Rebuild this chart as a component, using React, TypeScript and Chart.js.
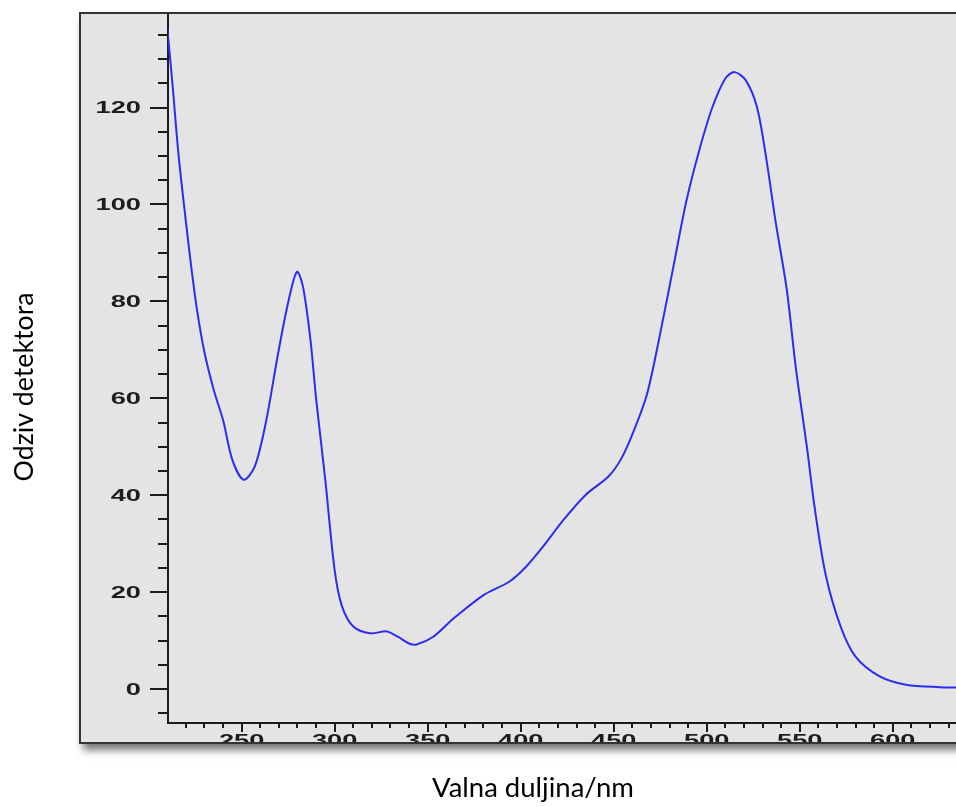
import { useEffect, useRef } from 'react';
import { Chart, registerables } from 'chart.js';

Chart.register(...registerables);

const wavelengths = [
  210, 213, 216, 220, 223, 226, 230, 235, 240, 245, 251, 257, 263, 269, 274, 278, 280, 283, 287, 290,
  295, 300, 304, 310, 319, 328, 334, 340, 344, 353, 364, 380, 394, 403, 412, 423, 435, 447, 454, 461,
  468, 475, 482, 489, 496, 503, 510, 515, 521, 527, 532, 537, 543, 548, 554, 558, 564, 572, 580, 593,
  607, 625, 640,
];
const response = [
  136.5, 124, 110.5, 96.5, 86.8, 78.2, 69.5, 61.7, 55.5, 47.3, 43.2, 45.9, 55, 68, 78, 84.5, 86.1, 83, 72, 60,
  43, 24.5, 17, 12.9, 11.5, 11.9, 10.8, 9.4, 9.2, 10.8, 14.6, 19.4, 22.2, 25.3, 29.4, 34.9, 40.1, 43.8, 47.5, 53.5,
  61, 73.4, 87, 100.6, 111.2, 120, 126, 127.3, 125.6, 120.1, 109.5, 96.5, 82.5, 66, 49.5, 37.5, 23.5, 12.9, 6.7, 2.6,
  0.9, 0.4, 0.3,
];

const xTickValues = [250, 300, 350, 400, 450, 500, 550, 600];
const xTickLabels = ['250', '300', '350', '400', '450', '500', '550', '600'];
const yTickValues = [0, 20, 40, 60, 80, 100, 120];
const yTickLabels = ['0', '20', '40', '60', '80', '100', '120'];
const xTitle = 'Valna duljina/nm';
const yTitle = 'Odziv detektora';

function fitFont(ctx: CanvasRenderingContext2D, text: string, width: number, family: string) {
  ctx.font = `normal 20px ${family}`;
  const w = ctx.measureText(text).width;
  return `normal ${(20 * width) / w}px ${family}`;
}

const framePlugin = {
  id: 'framePlugin',
  beforeDraw(chart: any) {
    const ctx: CanvasRenderingContext2D = chart.ctx;
    ctx.save();
    ctx.fillStyle = '#ffffff';
    ctx.fillRect(0, 0, chart.width, chart.height);
    ctx.shadowColor = 'rgba(0,0,0,0.55)';
    ctx.shadowBlur = 8;
    ctx.shadowOffsetX = 3;
    ctx.shadowOffsetY = 6;
    ctx.fillStyle = '#e4e4e4';
    ctx.fillRect(80, 13, 900, 731);
    ctx.restore();
  },
  beforeDatasetsDraw(chart: any) {
    const ctx: CanvasRenderingContext2D = chart.ctx;
    const xs = chart.scales.x;
    const ys = chart.scales.y;
    const area = chart.chartArea;
    ctx.save();
    ctx.strokeStyle = '#1c1c1c';
    ctx.lineWidth = 2;
    const seg = (x1: number, y1: number, x2: number, y2: number) => {
      ctx.beginPath();
      ctx.moveTo(x1, y1);
      ctx.lineTo(x2, y2);
      ctx.stroke();
    };
    // axes
    seg(area.left, 13, area.left, area.bottom + 1);
    seg(area.left - 1, area.bottom, 960, area.bottom);
    // y ticks
    for (let v = -5; v <= 135; v += 5) {
      const py = Math.round(ys.getPixelForValue(v));
      const len = v % 20 === 0 ? 18 : 10;
      seg(area.left - len, py, area.left, py);
    }
    // x ticks
    for (let v = 220; v <= 630; v += 10) {
      const px = Math.round(xs.getPixelForValue(v));
      const len = v % 50 === 0 ? 9 : 5;
      seg(px, area.bottom, px, area.bottom + len);
    }
    // tick labels
    ctx.fillStyle = '#1d1d1d';
    ctx.font = 'bold 16px "Liberation Sans", Arial, sans-serif';
    yTickValues.forEach((v, i) => {
      const py = ys.getPixelForValue(v);
      ctx.save();
      ctx.translate(141, py + 5.7);
      ctx.scale(1.7, 1);
      ctx.textAlign = 'right';
      ctx.textBaseline = 'alphabetic';
      ctx.fillText(yTickLabels[i], 0, 0);
      ctx.restore();
    });
    ctx.save();
    ctx.beginPath();
    ctx.rect(80, 13, 880, 729);
    ctx.clip();
    xTickValues.forEach((v, i) => {
      const px = xs.getPixelForValue(v);
      ctx.save();
      ctx.translate(px, 746);
      ctx.scale(1.7, 1);
      ctx.textAlign = 'center';
      ctx.textBaseline = 'alphabetic';
      ctx.fillText(xTickLabels[i], 0, 0);
      ctx.restore();
    });
    ctx.restore();
    // frame border
    ctx.fillStyle = '#333333';
    ctx.fillRect(79, 12, 880, 2);
    ctx.fillRect(79, 12, 2, 732);
    ctx.fillRect(79, 742, 880, 2);
    // titles
    ctx.fillStyle = '#000000';
    ctx.font = fitFont(ctx, xTitle, 202, 'Lato, "Open Sans", sans-serif');
    ctx.textAlign = 'center';
    ctx.textBaseline = 'alphabetic';
    ctx.fillText(xTitle, 533, 797);
    ctx.save();
    ctx.font = fitFont(ctx, yTitle, 189, 'Lato, "Open Sans", sans-serif');
    ctx.translate(33, 387);
    ctx.rotate(-Math.PI / 2);
    ctx.textAlign = 'center';
    ctx.textBaseline = 'alphabetic';
    ctx.fillText(yTitle, 0, 0);
    ctx.restore();
    ctx.restore();
  },
};

export default function App() {
  const canvasRef = useRef<HTMLCanvasElement | null>(null);

  useEffect(() => {
    if (!canvasRef.current) return;
    const chart = new Chart(canvasRef.current, {
      type: 'line',
      data: {
        datasets: [
          {
            data: wavelengths.map((w, i) => ({ x: w, y: response[i] })),
            borderColor: '#2d2df2',
            borderWidth: 2,
            pointRadius: 0,
            tension: 0.3,
            fill: false,
          },
        ],
      },
      options: {
        animation: false,
        responsive: false,
        devicePixelRatio: 1,
        layout: { padding: { left: 168, top: 13, right: 0, bottom: 84 } },
        plugins: { legend: { display: false }, tooltip: { enabled: false } },
        scales: {
          x: { type: 'linear', min: 210.4, max: 634, display: false },
          y: { type: 'linear', min: -7, max: 139.5, display: false },
        },
      },
      plugins: [framePlugin],
    } as any);
    return () => chart.destroy();
  }, []);

  return (
    <div style={{ position: 'absolute', left: 0, top: 0, width: 956, height: 807 }}>
      <canvas ref={canvasRef} width={956} height={807} style={{ width: 956, height: 807 }} />
    </div>
  );
}
